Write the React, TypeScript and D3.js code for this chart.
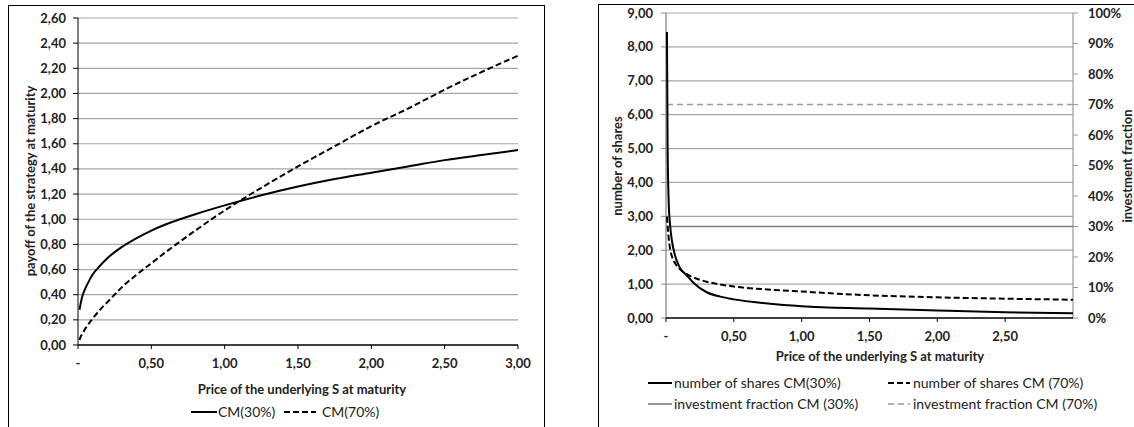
import React, { useEffect } from "react";
import * as d3 from "d3";

// payoff chart (left)
const payoffS = [0.01, 0.02, 0.03, 0.05, 0.08, 0.1, 0.15, 0.2, 0.3, 0.4, 0.5, 0.6, 0.8, 1.0, 1.25, 1.5, 1.75, 2.0, 2.25, 2.5, 2.75, 3.0];
const payoffCM30 = [0.28, 0.34, 0.39, 0.45, 0.52, 0.56, 0.63, 0.69, 0.78, 0.85, 0.91, 0.96, 1.04, 1.11, 1.19, 1.26, 1.32, 1.37, 1.42, 1.47, 1.51, 1.55];
const payoffCM70 = [0.04, 0.07, 0.09, 0.13, 0.18, 0.21, 0.28, 0.34, 0.46, 0.56, 0.65, 0.74, 0.91, 1.07, 1.25, 1.42, 1.58, 1.74, 1.88, 2.03, 2.17, 2.3];

// shares chart (right)
const sharesS = [0.007, 0.012, 0.02, 0.03, 0.045, 0.066, 0.1, 0.15, 0.2, 0.3, 0.4, 0.5, 0.75, 1.0, 1.5, 2.0, 2.5, 3.0];
const sharesCM30 = [8.44, 5.0, 3.4, 2.75, 2.25, 1.85, 1.5, 1.27, 1.05, 0.76, 0.63, 0.55, 0.43, 0.35, 0.28, 0.22, 0.17, 0.14];
const sharesCM70 = [2.99, 2.7, 2.35, 2.05, 1.8, 1.62, 1.45, 1.3, 1.2, 1.07, 0.99, 0.93, 0.84, 0.78, 0.67, 0.61, 0.57, 0.54];
const fractionS = [0.007, 3.0];
const fractionCM30 = [0.3, 0.3];
const fractionCM70 = [0.7, 0.7];

const leftXTicks = [0, 0.5, 1, 1.5, 2, 2.5, 3];
const rightXTicks = [0, 0.5, 1, 1.5, 2, 2.5];

const locale = d3.formatLocale({ decimal: ",", thousands: ".", grouping: [3], currency: ["", "€"] });
const fmt2 = locale.format(".2f");
const fmtX = (v: number) => (v === 0 ? "-" : fmt2(v));
const fmtPct = d3.format(".0%");

const FONT = "Lato, 'Open Sans', sans-serif";
const GRID = "#a6a6a6";

type Pt = [number, number];
const zip = (xs: number[], ys: number[]): Pt[] => xs.map((x, i) => [x, ys[i]]);

function LeftChart() {
  const x = d3.scaleLinear().domain([0, 3]).range([78, 518]);
  const y = d3.scaleLinear().domain([0, 2.6]).range([345, 18]);
  const line = d3
    .line<Pt>()
    .x(d => x(d[0]))
    .y(d => y(d[1]))
    .curve(d3.curveMonotoneX);
  const yTicks = d3.range(0, 2.61, 0.2);
  return (
    <g>
      <rect x={8.5} y={5.5} width={536} height={440} fill="#fff" stroke="#000" strokeWidth={1} />
      {yTicks.map((t, i) =>
        i === 0 ? null : (
          <line key={"g" + i} x1={x(0)} x2={x(3)} y1={y(t)} y2={y(t)} stroke={GRID} strokeWidth={1.2} />
        )
      )}
      <line x1={x(0)} x2={x(0)} y1={y(2.6)} y2={y(0)} stroke="#000" strokeWidth={1} />
      {yTicks.map((t, i) => (
        <g key={"yt" + i}>
          <line x1={x(0) - 5} x2={x(0)} y1={y(t)} y2={y(t)} stroke="#000" />
          <text x={x(0) - 12} y={y(t)} dy="0.35em" textAnchor="end" fontWeight="bold" fontSize={13} fontFamily={FONT} fill="#222">
            {fmt2(t)}
          </text>
        </g>
      ))}
      <line x1={x(0)} x2={x(3)} y1={y(0)} y2={y(0)} stroke="#000" strokeWidth={1.3} />
      {leftXTicks.map((t, i) => (
        <g key={"xt" + i}>
          <line x1={x(t)} x2={x(t)} y1={y(0)} y2={y(0) + 4} stroke="#000" />
          <text x={x(t)} y={363} dy="0.35em" textAnchor="middle" fontWeight="bold" fontSize={13} fontFamily={FONT} fill="#222">
            {fmtX(t)}
          </text>
        </g>
      ))}
      <path d={line(zip(payoffS, payoffCM70)) || ""} fill="none" stroke="#000" strokeWidth={2} strokeDasharray="6,3" />
      <path d={line(zip(payoffS, payoffCM30)) || ""} fill="none" stroke="#000" strokeWidth={2} />
      <text x={302} y={389} dy="0.35em" textAnchor="middle" fontWeight="bold" fontSize={13} fontFamily={FONT} fill="#222">
        Price of the underlying S at maturity
      </text>
      <text
        transform={`translate(30,181) rotate(-90)`}
        dy="0.35em"
        textAnchor="middle"
        fontWeight="bold"
        fontSize={13}
        fontFamily={FONT}
        fill="#222"
      >
        payoff of the strategy at maturity
      </text>
      <line x1={191} x2={217} y1={412} y2={412} stroke="#000" strokeWidth={2} />
      <text x={218} y={412} dy="0.35em" fontSize={14} fontFamily={FONT} fill="#222">
        CM(30%)
      </text>
      <line x1={284} x2={316} y1={412} y2={412} stroke="#000" strokeWidth={2} strokeDasharray="6,3" />
      <text x={322} y={412} dy="0.35em" fontSize={14} fontFamily={FONT} fill="#222">
        CM(70%)
      </text>
    </g>
  );
}

function RightChart() {
  const x = d3.scaleLinear().domain([0, 3]).range([666, 1073]);
  const y = d3.scaleLinear().domain([0, 9]).range([318, 13]);
  const y2 = d3.scaleLinear().domain([0, 1]).range([318, 13]);
  const line = d3
    .line<Pt>()
    .x(d => x(d[0]))
    .y(d => y(d[1]))
    .curve(d3.curveMonotoneX);
  const line2 = d3
    .line<Pt>()
    .x(d => x(d[0]))
    .y(d => y2(d[1]));
  const yTicks = d3.range(0, 10, 1);
  const y2Ticks = d3.range(0, 11, 1).map(v => v / 10);
  return (
    <g>
      <rect x={598.5} y={4.5} width={560} height={440} fill="#fff" stroke="#000" strokeWidth={1} />
      {yTicks.map((t, i) =>
        i === 0 ? null : (
          <line key={"g" + i} x1={x(0)} x2={x(3)} y1={y(t)} y2={y(t)} stroke={GRID} strokeWidth={1.2} />
        )
      )}
      <line x1={x(0)} x2={x(0)} y1={y(9)} y2={y(0)} stroke="#888" strokeWidth={1.3} />
      {yTicks.map((t, i) => (
        <g key={"yt" + i}>
          <line x1={x(0) - 5} x2={x(0)} y1={y(t)} y2={y(t)} stroke="#888" />
          <text x={653} y={y(t)} dy="0.35em" textAnchor="end" fontWeight="bold" fontSize={13} fontFamily={FONT} fill="#222">
            {fmt2(t)}
          </text>
        </g>
      ))}
      <line x1={x(3)} x2={x(3)} y1={y2(1)} y2={y2(0)} stroke="#999" strokeWidth={1.2} />
      {y2Ticks.map((t, i) => (
        <g key={"y2t" + i}>
          <line x1={x(3)} x2={x(3) + 5} y1={y2(t)} y2={y2(t)} stroke="#999" />
          <text x={1088} y={y2(t)} dy="0.35em" textAnchor="start" fontWeight="bold" fontSize={13} fontFamily={FONT} fill="#222">
            {fmtPct(t)}
          </text>
        </g>
      ))}
      <line x1={x(0)} x2={x(3)} y1={y(0)} y2={y(0)} stroke="#000" strokeWidth={1.3} />
      {rightXTicks.map((t, i) => (
        <g key={"xt" + i}>
          <line x1={x(t)} x2={x(t)} y1={y(0)} y2={y(0) + 4} stroke="#000" />
          <text x={x(t)} y={336} dy="0.35em" textAnchor="middle" fontWeight="bold" fontSize={13} fontFamily={FONT} fill="#222">
            {fmtX(t)}
          </text>
        </g>
      ))}
      <path d={line2(zip(fractionS, fractionCM30)) || ""} fill="none" stroke="#7f7f7f" strokeWidth={1.6} />
      <path d={line2(zip(fractionS, fractionCM70)) || ""} fill="none" stroke="#999" strokeWidth={1.6} strokeDasharray="6,4" />
      <path d={line(zip(sharesS, sharesCM70)) || ""} fill="none" stroke="#000" strokeWidth={2} strokeDasharray="6,3" />
      <path d={line(zip(sharesS, sharesCM30)) || ""} fill="none" stroke="#000" strokeWidth={2} />
      <text x={880} y={356} dy="0.35em" textAnchor="middle" fontWeight="bold" fontSize={13} fontFamily={FONT} fill="#222">
        Price of the underlying S at maturity
      </text>
      <text transform={`translate(617,166) rotate(-90)`} dy="0.35em" textAnchor="middle" fontWeight="bold" fontSize={13} fontFamily={FONT} fill="#222">
        number of shares
      </text>
      <text transform={`translate(1127,166) rotate(-90)`} dy="0.35em" textAnchor="middle" fontWeight="bold" fontSize={13} fontFamily={FONT} fill="#222">
        investment fraction
      </text>
      <line x1={648} x2={672} y1={383} y2={383} stroke="#000" strokeWidth={2} />
      <text x={674} y={383} dy="0.35em" fontSize={14} fontFamily={FONT} fill="#222">
        number of shares CM(30%)
      </text>
      <line x1={888} x2={910} y1={383} y2={383} stroke="#000" strokeWidth={2} strokeDasharray="6,3" />
      <text x={913} y={383} dy="0.35em" fontSize={14} fontFamily={FONT} fill="#222">
        number of shares CM (70%)
      </text>
      <line x1={648} x2={672} y1={404} y2={404} stroke="#7f7f7f" strokeWidth={1.6} />
      <text x={674} y={404} dy="0.35em" fontSize={14} fontFamily={FONT} fill="#222">
        investment fraction CM (30%)
      </text>
      <line x1={888} x2={910} y1={404} y2={404} stroke="#999" strokeWidth={1.6} strokeDasharray="6,4" />
      <text x={913} y={404} dy="0.35em" fontSize={14} fontFamily={FONT} fill="#222">
        investment fraction CM (70%)
      </text>
    </g>
  );
}

export default function App() {
  useEffect(() => {
    document.body.style.margin = "0";
  }, []);
  return (
    <svg width={1134} height={427} style={{ display: "block", background: "#fff" }}>
      <LeftChart />
      <RightChart />
    </svg>
  );
}
